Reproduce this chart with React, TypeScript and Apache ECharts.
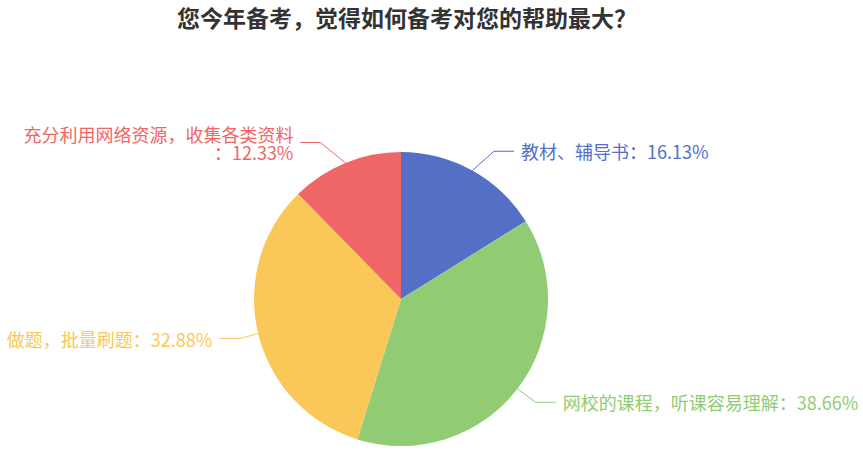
import { useEffect, useRef } from 'react';
import * as echarts from 'echarts';

const titleText = '您今年备考，觉得如何备考对您的帮助最大？';
const categories = ['教材、辅导书', '网校的课程，听课容易理解', '做题，批量刷题', '充分利用网络资源，收集各类资料'];
const shares = [16.13, 38.66, 32.88, 12.33];
const palette = ['#5470c6', '#91cc75', '#fac858', '#ee6666'];

const FONT = '"Noto Sans CJK SC", "Noto Sans", sans-serif';

// pie geometry
const CX = 401;
const CY = 299;
const RADIUS = 147;
const LINE_LEN = 22;
const LINE_LEN2 = 20;
const LINE_END_R = 186; // label line ends sit on this circle (old-style pie label layout)

export default function App() {
  const chartRef = useRef<HTMLDivElement>(null);

  useEffect(() => {
    if (!chartRef.current) return;
    document.body.style.margin = '0';
    const chart = echarts.init(chartRef.current, null, { renderer: 'svg' });

    const option: echarts.EChartsOption = {
      animation: false,
      backgroundColor: '#ffffff',
      color: palette,
      title: {
        text: titleText,
        left: 172,
        top: 0,
        textStyle: {
          fontFamily: FONT,
          fontSize: 23,
          fontWeight: 'bold',
          color: '#333333',
        },
      },
      series: [
        {
          type: 'pie',
          center: [CX, CY],
          radius: RADIUS,
          startAngle: 90,
          data: categories.map((name, i) => ({
            name,
            value: shares[i],
            // the long label wraps its "：percent" part onto a second line
            label: i === 3 ? { width: 280, overflow: 'break' } : undefined,
          })),
          label: {
            show: true,
            color: 'inherit',
            fontFamily: FONT,
            fontSize: 18,
            formatter: '{b}：{c}%',
            width: 400,
            overflow: 'none',
          },
          labelLine: {
            length: LINE_LEN,
            length2: LINE_LEN2,
          },
          labelLayout: (params: any) => {
            const pts = params.labelLinePoints;
            if (!pts) return {};
            const dir = pts[2][0] < CX ? -1 : 1;
            const y = pts[1][1];
            const dy = y - CY;
            const endX = CX + dir * Math.sqrt(Math.max(LINE_END_R * LINE_END_R - dy * dy, 0));
            return {
              x: endX + dir * 7,
              y,
              labelLinePoints: [pts[0], [endX - dir * LINE_LEN2, y], [endX, y]],
            };
          },
          emphasis: { disabled: true },
        },
      ],
    };

    chart.setOption(option);

    return () => {
      chart.dispose();
    };
  }, []);

  return <div ref={chartRef} style={{ width: '863px', height: '451px' }} />;
}
